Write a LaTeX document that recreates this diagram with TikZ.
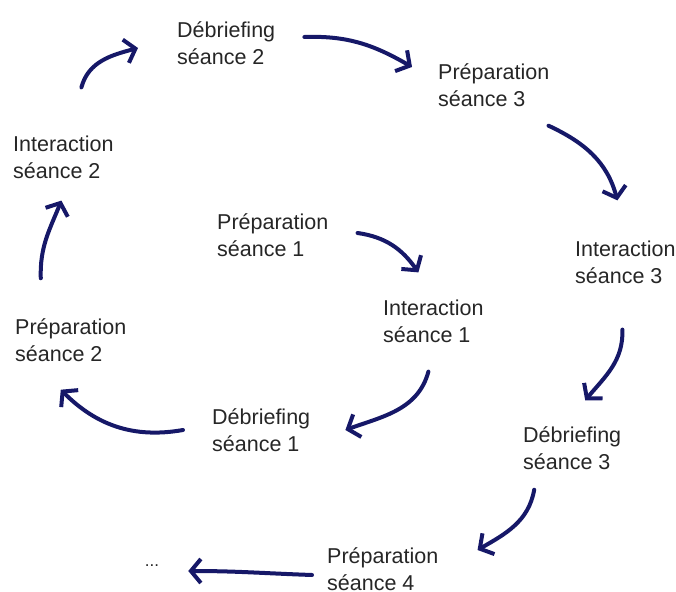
\documentclass[tikz,border=0pt]{standalone}
\usepackage{fontspec}
\setmainfont{Liberation Sans}
\usetikzlibrary{arrows.meta}
\definecolor{inknavy}{RGB}{22,24,104}
\definecolor{inkgray}{RGB}{38,38,38}
\tikzstyle{stage}=[anchor=west,align=left,inner sep=0pt,text=inkgray,font=\fontsize{21.5}{27}\selectfont]
\tikzstyle{flow}=[-{Straight Barb[length=10pt,width=24pt]},line width=4pt,color=inknavy,line cap=round]

\begin{document}
\begin{tikzpicture}[x=1pt,y=1pt]
\useasboundingbox (0,0) rectangle (676,591);
\node[stage] at (177, 548) (deb2) {Débriefing\\séance 2};
\node[stage] at (438, 506) (prep3) {Préparation\\séance 3};
\node[stage] at (13, 434) (int2) {Interaction\\séance 2};
\node[stage] at (217, 356) (prep1) {Préparation\\séance 1};
\node[stage] at (575, 329) (int3) {Interaction\\séance 3};
\node[stage] at (15, 251) (prep2) {Préparation\\séance 2};
\node[stage] at (383, 270) (int1) {Interaction\\séance 1};
\node[stage] at (212, 161) (deb1) {Débriefing\\séance 1};
\node[stage] at (523, 143) (deb3) {Débriefing\\séance 3};
\node[stage] at (327, 22) (prep4) {Préparation\\séance 4};
\node[stage, anchor=center, font=\fontsize{17}{20}\selectfont] at (152, 25) (more) {...};

% inner loop
\draw[flow] ([shift={(29,2)}]prep1.east) to[out=-8, in=125] ([shift={(-15,27)}]int1.north);
\draw[flow] ([shift={(-5,-29)}]int1.south) to[out=-105, in=20] ([shift={(35,0)}]deb1.east);
\draw[flow] ([shift={(-29,0)}]deb1.west) to[out=-170, in=-45] ([shift={(-10,-28)}]prep2.south);
\draw[flow] ([shift={(-30,40)}]prep2.north) to[out=92, in=-112] ([shift={(-2,-22)}]int2.south);
\draw[flow] ([shift={(18,48)}]int2.north) to[out=75, in=195] ([shift={(-39,-5)}]deb2.west);
% outer loop
\draw[flow] ([shift={(29,6)}]deb2.east) to[out=2, in=150] ([shift={(-26,18)}]prep3.west);
\draw[flow] ([shift={(-1,-19)}]prep3.south east) to[out=-25, in=105] ([shift={(-8,40)}]int3.north);
\draw[flow] ([shift={(-3,-46)}]int3.south) to[out=-88, in=50] ([shift={(13,26)}]deb3.north);
\draw[flow] ([shift={(-38,-20)}]deb3.south) to[out=-100, in=30] ([shift={(39,19)}]prep4.east);
\draw[flow] ([shift={(-15,-6)}]prep4.west) to[out=178, in=0] ([shift={(29,-5)}]more.east);

\end{tikzpicture}
\end{document}
